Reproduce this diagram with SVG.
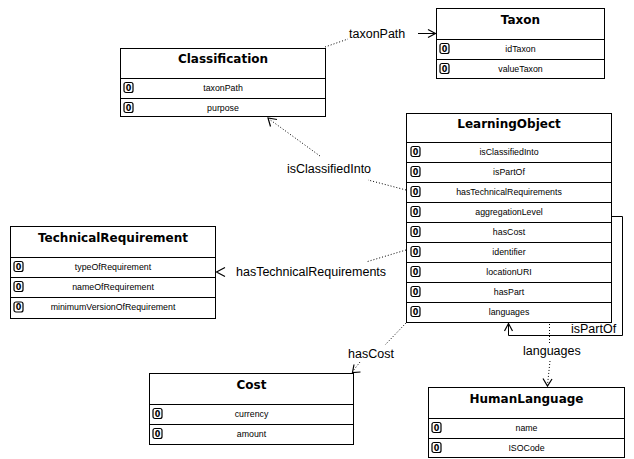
<svg xmlns="http://www.w3.org/2000/svg" width="634" height="459" viewBox="0 0 634 459">
<defs>
<style>
.box{fill:#fff;stroke:#000;stroke-width:1}
.sep{stroke:#000;stroke-width:1}
.title{font-family:"DejaVu Sans",Verdana,sans-serif;font-weight:bold;font-size:12px;text-anchor:middle;fill:#000}
.fld{font-family:"Liberation Sans",Arial,sans-serif;font-size:8.8px;text-anchor:middle;fill:#000}
.ic{fill:#fff;stroke:#000;stroke-width:1.2}
.ict{font-family:"DejaVu Sans",Verdana,sans-serif;font-weight:bold;font-size:8px;text-anchor:middle;fill:#000}
.lbl{font-family:"Liberation Sans",Arial,sans-serif;font-size:12.5px;fill:#000}
.dot{fill:none;stroke:#000;stroke-width:1;stroke-dasharray:1,2}
.sol{fill:none;stroke:#000;stroke-width:1}
.ah{fill:none;stroke:#000;stroke-width:1.2}
</style>
<g id="icon0">
<rect class="ic" x="0" y="0" width="9" height="10" rx="2"/>
<text class="ict" x="4.5" y="8.3">0</text>
</g>
</defs>

<g id="connectors">
<!-- taxonPath -->
<path class="dot" d="M325,47 L348,39"/>
<text class="lbl" x="349" y="38">taxonPath</text>
<path class="sol" d="M418,33.5 L435,33.5"/>
<path class="ah" d="M428,29.5 L435.5,33.5 L428,37.5"/>
<!-- isClassifiedInto -->
<path class="dot" d="M406,190 L368,180"/>
<path class="dot" d="M320,156 L269,119"/>
<path class="ah" d="M270.5,126.5 L268,118 L277,119.5"/>
<text class="lbl" x="287" y="173">isClassifiedInto</text>
<!-- hasTechnicalRequirements -->
<path class="dot" d="M406,250 L366,262"/>
<path class="ah" d="M225,267.5 L216.5,272 L225,276.5"/>
<text class="lbl" x="236" y="276">hasTechnicalRequirements</text>
<!-- hasCost -->
<path class="dot" d="M406,323 L385,345"/>
<text class="lbl" x="348" y="358">hasCost</text>
<path class="dot" d="M360,362 L353,371"/>
<path class="ah" d="M354,364.5 L352.5,372.5 L360.5,372"/>
<!-- isPartOf (self loop) -->
<path class="sol" d="M611,216.5 L622.5,216.5 L622.5,335.5 L508.5,335.5 L508.5,324"/>
<path class="ah" d="M504.5,331 L508.5,323.5 L512.5,331"/>
<text class="lbl" x="571" y="333">isPartOf</text>
<!-- languages -->
<path class="dot" d="M549.5,324 L549.5,344"/>
<text class="lbl" x="523" y="355">languages</text>
<path class="dot" d="M550,361 L547.5,385"/>
<path class="ah" d="M543,378.5 L547.5,386 L552,379"/>
</g>

<g id="Classification">
<rect class="box" x="120.5" y="48.5" width="205" height="68"/>
<text class="title" x="223" y="63">Classification</text>
<line class="sep" x1="120" y1="78.5" x2="326" y2="78.5"/>
<line class="sep" x1="120" y1="98.5" x2="326" y2="98.5"/>
<use href="#icon0" x="124" y="82.5"/>
<text class="fld" x="223" y="91">taxonPath</text>
<use href="#icon0" x="124" y="102.5"/>
<text class="fld" x="223" y="111">purpose</text>
</g>

<g id="Taxon">
<rect class="box" x="436.5" y="8.5" width="168" height="70"/>
<text class="title" x="520.5" y="24">Taxon</text>
<line class="sep" x1="436" y1="39.5" x2="605" y2="39.5"/>
<line class="sep" x1="436" y1="59.5" x2="605" y2="59.5"/>
<use href="#icon0" x="440" y="43.5"/>
<text class="fld" x="520.5" y="52">idTaxon</text>
<use href="#icon0" x="440" y="63.5"/>
<text class="fld" x="520.5" y="72">valueTaxon</text>
</g>

<g id="LearningObject">
<rect class="box" x="406.5" y="113.5" width="205" height="209"/>
<text class="title" x="509" y="128">LearningObject</text>
<line class="sep" x1="406" y1="142.5" x2="612" y2="142.5"/>
<line class="sep" x1="406" y1="162.5" x2="612" y2="162.5"/>
<line class="sep" x1="406" y1="182.5" x2="612" y2="182.5"/>
<line class="sep" x1="406" y1="202.5" x2="612" y2="202.5"/>
<line class="sep" x1="406" y1="222.5" x2="612" y2="222.5"/>
<line class="sep" x1="406" y1="242.5" x2="612" y2="242.5"/>
<line class="sep" x1="406" y1="262.5" x2="612" y2="262.5"/>
<line class="sep" x1="406" y1="282.5" x2="612" y2="282.5"/>
<line class="sep" x1="406" y1="302.5" x2="612" y2="302.5"/>
<use href="#icon0" x="411" y="146.5"/>
<text class="fld" x="509" y="155">isClassifiedInto</text>
<use href="#icon0" x="411" y="166.5"/>
<text class="fld" x="509" y="175">isPartOf</text>
<use href="#icon0" x="411" y="186.5"/>
<text class="fld" x="509" y="195">hasTechnicalRequirements</text>
<use href="#icon0" x="411" y="206.5"/>
<text class="fld" x="509" y="215">aggregationLevel</text>
<use href="#icon0" x="411" y="226.5"/>
<text class="fld" x="509" y="235">hasCost</text>
<use href="#icon0" x="411" y="246.5"/>
<text class="fld" x="509" y="255">identifier</text>
<use href="#icon0" x="411" y="266.5"/>
<text class="fld" x="509" y="275">locationURI</text>
<use href="#icon0" x="411" y="286.5"/>
<text class="fld" x="509" y="295">hasPart</text>
<use href="#icon0" x="411" y="306.5"/>
<text class="fld" x="509" y="315">languages</text>
</g>

<g id="TechnicalRequirement">
<rect class="box" x="10.5" y="226.5" width="205" height="92"/>
<text class="title" x="113" y="242">TechnicalRequirement</text>
<line class="sep" x1="10" y1="257.5" x2="216" y2="257.5"/>
<line class="sep" x1="10" y1="277.5" x2="216" y2="277.5"/>
<line class="sep" x1="10" y1="297.5" x2="216" y2="297.5"/>
<use href="#icon0" x="14" y="261.5"/>
<text class="fld" x="113" y="270">typeOfRequirement</text>
<use href="#icon0" x="14" y="281.5"/>
<text class="fld" x="113" y="290">nameOfRequirement</text>
<use href="#icon0" x="14" y="302"/>
<text class="fld" x="113" y="310">minimumVersionOfRequirement</text>
</g>

<g id="Cost">
<rect class="box" x="149.5" y="373.5" width="204" height="71"/>
<text class="title" x="251.5" y="389">Cost</text>
<line class="sep" x1="149" y1="404.5" x2="354" y2="404.5"/>
<line class="sep" x1="149" y1="424.5" x2="354" y2="424.5"/>
<use href="#icon0" x="153" y="408.5"/>
<text class="fld" x="251.5" y="417">currency</text>
<use href="#icon0" x="153" y="428.5"/>
<text class="fld" x="251.5" y="437">amount</text>
</g>

<g id="HumanLanguage">
<rect class="box" x="428.5" y="387.5" width="196" height="70"/>
<text class="title" x="526.5" y="403">HumanLanguage</text>
<line class="sep" x1="428" y1="418.5" x2="625" y2="418.5"/>
<line class="sep" x1="428" y1="438.5" x2="625" y2="438.5"/>
<use href="#icon0" x="432" y="422.5"/>
<text class="fld" x="526.5" y="431">name</text>
<use href="#icon0" x="432" y="442.5"/>
<text class="fld" x="526.5" y="451">ISOCode</text>
</g>
</svg>
